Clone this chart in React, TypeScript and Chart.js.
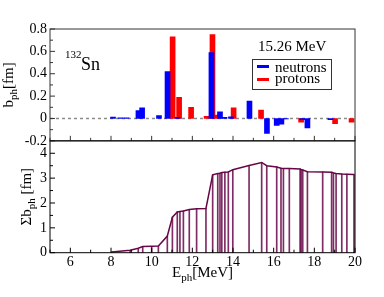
import React, { useEffect, useRef } from 'react';
import { Chart, registerables } from 'chart.js';

Chart.register(...registerables);

// Top panel: b_ph per state (fm)
const neutronE = [8.1, 8.47, 8.76, 9.35, 9.53, 10.36, 10.78, 11.27, 12.94, 13.36, 13.58, 13.9, 14.81, 15.67, 16.15, 16.38, 16.6, 17.4, 17.66, 18.79];
const neutronB = [0.012, 0.006, 0.006, 0.07, 0.095, 0.025, 0.42, 0.01, 0.59, 0.06, 0.01, 0.015, 0.155, -0.134, -0.062, -0.05, -0.005, -0.01, -0.085, -0.01];
const protonE = [11.03, 11.35, 11.94, 12.7, 12.99, 13.21, 14.03, 15.38, 17.35, 19.02, 19.83];
const protonB = [0.73, 0.19, 0.1, 0.02, 0.75, 0.03, 0.095, 0.075, -0.033, -0.046, -0.032];

// Bottom panel: running sum of b_ph (fm)
const sumE = [8.03, 8.94, 9.34, 9.56, 10.0, 10.33, 10.77, 11.02, 11.26, 11.39, 11.56, 11.85, 12.21, 12.67, 13.0, 13.25, 13.36, 13.45, 13.6, 13.77, 13.99, 14.79, 15.41, 15.66, 16.15, 16.36, 16.48, 16.77, 17.3, 17.35, 17.43, 17.66, 18.41, 18.85, 18.94, 19.07, 19.35, 19.6, 19.95];
const sumB = [0.03, 0.1, 0.18, 0.25, 0.26, 0.27, 0.67, 1.43, 1.64, 1.66, 1.68, 1.74, 1.77, 1.78, 3.13, 3.19, 3.2, 3.23, 3.24, 3.25, 3.34, 3.51, 3.63, 3.5, 3.45, 3.4, 3.39, 3.39, 3.37, 3.35, 3.33, 3.26, 3.25, 3.24, 3.21, 3.19, 3.17, 3.16, 3.15];

const xTicks = [6, 8, 10, 12, 14, 16, 18, 20];
const yTopTicks = [-0.2, 0, 0.2, 0.4, 0.6, 0.8];
const yBotTicks = [0, 1, 2, 3, 4];

const FONT = '"Liberation Serif", "Times New Roman", serif';

const fmt = (v: number) => (Math.abs(v) < 1e-9 ? '0' : String(+v.toFixed(1)));

export default function App() {
  const ref = useRef<HTMLCanvasElement>(null);

  useEffect(() => {
    const canvas = ref.current!;
    const toPts = (xs: number[], ys: number[]) => xs.map((x, i) => ({ x, y: ys[i] }));

    const decor = {
      id: 'decor',
      afterDatasetsDraw(chart: any) {
        const ctx = chart.ctx as CanvasRenderingContext2D;
        const { left: L, right: R } = chart.chartArea;
        const xs = chart.scales.x;
        ctx.save();
        ctx.lineWidth = 1;
        const line = (x1: number, y1: number, x2: number, y2: number) => {
          ctx.beginPath();
          ctx.moveTo(x1, y1);
          ctx.lineTo(x2, y2);
          ctx.stroke();
        };
        for (const id of ['yTop', 'yBot']) {
          const s = chart.scales[id];
          ctx.strokeStyle = id === 'yTop' ? '#333' : '#000';
          ctx.strokeRect(L, s.top, R - L, s.bottom - s.top);
          const vals: number[] = s.ticks.map((t: any) => t.value);
          vals.forEach((v) => {
            const y = s.getPixelForValue(v);
            line(L, y, L + 5, y);
          });
          for (let i = 0; i < vals.length - 1; i++) {
            const y = s.getPixelForValue((vals[i] + vals[i + 1]) / 2);
            line(L, y, L + 3, y);
          }
          xTicks.forEach((v) => {
            const x = xs.getPixelForValue(v);
            line(x, s.bottom, x, s.bottom - 5);
            const xm = xs.getPixelForValue(v - 1);
            line(xm, s.bottom, xm, s.bottom - 3);
          });
        }
        ctx.restore();
      },
      afterDraw(chart: any) {
        const ctx = chart.ctx as CanvasRenderingContext2D;
        const { left: L, right: R, top: T } = chart.chartArea;
        const yTop = chart.scales.yTop;
        const yBot = chart.scales.yBot;
        ctx.save();
        ctx.fillStyle = '#000';
        ctx.textBaseline = 'alphabetic';
        ctx.textAlign = 'left';

        // 132Sn
        ctx.font = `11px ${FONT}`;
        ctx.fillText('132', L + 15, T + 29);
        ctx.font = `18px ${FONT}`;
        ctx.fillText('Sn', L + 31, T + 41);

        // energy label
        ctx.font = `15px ${FONT}`;
        ctx.fillText('15.26 MeV', R - 97, T + 21.5);

        // legend box
        const bx = R - 103, by = T + 30;
        ctx.strokeStyle = '#333';
        ctx.lineWidth = 1;
        ctx.strokeRect(Math.round(bx) + 0.5, Math.round(by) + 0.5, 79, 30);
        ctx.lineWidth = 3;
        ctx.strokeStyle = '#0000ff';
        ctx.beginPath(); ctx.moveTo(bx + 5, by + 7.5); ctx.lineTo(bx + 17, by + 7.5); ctx.stroke();
        ctx.strokeStyle = '#ff0000';
        ctx.beginPath(); ctx.moveTo(bx + 5, by + 20.5); ctx.lineTo(bx + 17, by + 20.5); ctx.stroke();
        ctx.font = `15px ${FONT}`;
        ctx.fillText('neutrons', bx + 23, by + 12.5);
        ctx.fillText('protons', bx + 23, by + 24);

        const parts = (segs: [string, number, number][], x0: number, y0: number) => {
          let x = x0;
          for (const [t, size, dy] of segs) {
            ctx.font = `${size}px ${FONT}`;
            ctx.fillText(t, x, y0 + dy);
            x += ctx.measureText(t).width;
          }
        };
        const width = (segs: [string, number, number][]) =>
          segs.reduce((w, [t, size]) => {
            ctx.font = `${size}px ${FONT}`;
            return w + ctx.measureText(t).width;
          }, 0);

        // x title
        const xt: [string, number, number][] = [['E', 15, 0], ['ph', 11, 4], ['[MeV]', 15, 0]];
        parts(xt, (L + R) / 2 - width(xt) / 2, 277);

        // y titles (rotated)
        const yt1: [string, number, number][] = [['b', 15, 0], ['ph', 11, 4], ['[fm]', 15, 0]];
        ctx.save();
        ctx.translate(13, (yTop.top + yTop.bottom) / 2);
        ctx.rotate(-Math.PI / 2);
        parts(yt1, -width(yt1) / 2, 0);
        ctx.restore();

        const yt2: [string, number, number][] = [['\u03A3b', 15, 0], ['ph', 11, 4], [' [fm]', 15, 0]];
        ctx.save();
        ctx.translate(31, (yBot.top + yBot.bottom) / 2);
        ctx.rotate(-Math.PI / 2);
        parts(yt2, -width(yt2) / 2, 0);
        ctx.restore();

        ctx.restore();
      },
    };

    const tickFont = { family: FONT, size: 14 };

    const chart = new Chart(canvas, {
      type: 'bar',
      data: {
        datasets: [
          {
            type: 'bar', label: 'neutrons', data: toPts(neutronE, neutronB),
            backgroundColor: '#0000ff', yAxisID: 'yTop', barThickness: 5, grouped: false, order: 1,
          } as any,
          {
            type: 'bar', label: 'protons', data: toPts(protonE, protonB),
            backgroundColor: '#ff0000', yAxisID: 'yTop', barThickness: 5, grouped: false, order: 2,
          } as any,
          {
            type: 'line', label: 'zero', data: [{ x: 5, y: 0 }, { x: 20, y: 0 }],
            borderColor: '#8c8c8c', borderDash: [3, 3], borderWidth: 1.5, pointRadius: 0,
            yAxisID: 'yTop', order: 3,
          } as any,
          {
            type: 'bar', label: 'drops', data: toPts(sumE, sumB),
            backgroundColor: 'rgba(103,7,72,0.85)', yAxisID: 'yBot', barThickness: 1, grouped: false, order: 2,
          } as any,
          {
            type: 'line', label: 'sum', data: toPts(sumE, sumB),
            borderColor: '#670748', borderWidth: 1.5, pointRadius: 0, yAxisID: 'yBot', order: 1,
          } as any,
        ],
      },
      options: {
        responsive: false,
        devicePixelRatio: 1,
        animation: false,
        layout: { padding: { left: 0, right: 29, top: 29, bottom: 0 } },
        plugins: { legend: { display: false }, tooltip: { enabled: false } },
        scales: {
          x: {
            type: 'linear', position: 'bottom', min: 5, max: 20, offset: false,
            grid: { display: false, drawTicks: false }, border: { display: false },
            ticks: { font: tickFont, color: '#000', padding: 1, maxRotation: 0, autoSkip: false },
            afterBuildTicks: (s: any) => { s.ticks = xTicks.map((v) => ({ value: v })); },
            afterFit: (s: any) => { s.height = 44.3; },
          },
          yTop: {
            type: 'linear', position: 'left', stack: 'panels', stackWeight: 1, weight: 2,
            min: -0.2, max: 0.8,
            grid: { display: false, drawTicks: false }, border: { display: false },
            ticks: { font: tickFont, color: '#000', padding: 3, autoSkip: false, callback: (v: any) => fmt(+v) },
            afterBuildTicks: (s: any) => { s.ticks = yTopTicks.map((v) => ({ value: v })); },
            afterFit: (s: any) => { s.width = 50; },
          },
          yBot: {
            type: 'linear', position: 'left', stack: 'panels', stackWeight: 1, weight: 1,
            min: 0, max: 4.5,
            grid: { display: false, drawTicks: false }, border: { display: false },
            ticks: { font: tickFont, color: '#000', padding: 3, autoSkip: false, callback: (v: any) => fmt(+v) },
            afterBuildTicks: (s: any) => { s.ticks = yBotTicks.map((v) => ({ value: v })); },
            afterFit: (s: any) => { s.width = 50; },
          },
        } as any,
      },
      plugins: [decor],
    });

    return () => chart.destroy();
  }, []);

  return (
    <div style={{ position: 'fixed', left: 0, top: 0, width: 384, height: 297, background: '#fff' }}>
      <canvas ref={ref} width={384} height={297} style={{ width: 384, height: 297, display: 'block' }} />
    </div>
  );
}
